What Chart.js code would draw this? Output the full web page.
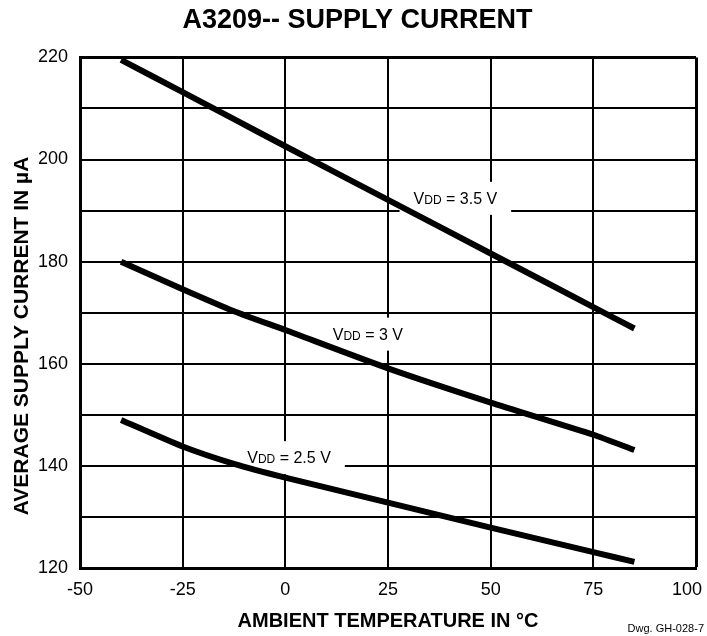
<!DOCTYPE html>
<html>
<head>
<meta charset="utf-8">
<script src="https://cdn.jsdelivr.net/npm/chart.js@4.4.1/dist/chart.umd.min.js"></script>
<style>
  html, body { margin: 0; padding: 0; background: #fff; }
</style>
</head>
<body>
<canvas id="supplyChart" width="707" height="636"></canvas>
<script>
// values (temperature in C, current in uA)
const temps = [-40, -25, -12.5, 0, 25, 50, 75, 85];
const vdd35 = [219.5, 213.2, 207.9, 202.6, 192.1, 181.6, 171.1, 166.9];
const vdd30 = [180, 174.6, 170.3, 166.6, 159.1, 152.4, 146.1, 143.1];
const vdd25 = [149, 143.8, 140.4, 137.7, 132.8, 127.9, 123.1, 121.2];
const seriesVolts = ['3.5', '3', '2.5'];
const xTicks = [-50, -25, 0, 25, 50, 75, 100];
const yTicks = [120, 140, 160, 180, 200, 220];

const FONT = '"Liberation Sans", Arial, Helvetica, sans-serif';

// where the VDD captions sit on the chart
const labelSpots = [
  { volts: seriesVolts[0], temp: 41.4, current: 192.5 },
  { volts: seriesVolts[1], temp: 20.1, current: 165.9 },
  { volts: seriesVolts[2], temp: 0.9, current: 141.7 },
];

function toPoints(values) {
  return values.map((v, i) => ({ x: temps[i], y: v }));
}

const curveLabels = {
  id: 'curveLabels',
  beforeDatasetsDraw(chart) {
    const { ctx, scales: { x, y } } = chart;
    labelSpots.forEach((spot) => {
      const cx = x.getPixelForValue(spot.temp);
      const cy = y.getPixelForValue(spot.current);
      const rest = ' = ' + spot.volts + ' V';
      ctx.save();
      ctx.font = '16px ' + FONT;
      const wV = ctx.measureText('V').width;
      const wRest = ctx.measureText(rest).width;
      ctx.font = '12px ' + FONT;
      const wDD = ctx.measureText('DD').width;
      const total = wV + wDD + wRest;
      const left = cx - total / 2;

      ctx.fillStyle = '#fff';
      ctx.fillRect(left - 14, cy - 16, total + 28, 33);

      ctx.fillStyle = '#000';
      ctx.textBaseline = 'alphabetic';
      ctx.textAlign = 'left';
      const base = cy + 6;
      ctx.font = '16px ' + FONT;
      ctx.fillText('V', left, base);
      ctx.font = '12px ' + FONT;
      ctx.fillText('DD', left + wV, base);
      ctx.font = '16px ' + FONT;
      ctx.fillText(rest, left + wV + wDD, base);
      ctx.restore();
    });
  },
  afterDraw(chart) {
    const { ctx } = chart;
    ctx.save();
    ctx.fillStyle = '#000';
    // y axis title, sits a little below the middle of the plot
    ctx.font = 'bold 21px ' + FONT;
    ctx.textAlign = 'center';
    ctx.textBaseline = 'middle';
    ctx.translate(22, 336);
    ctx.rotate(-Math.PI / 2);
    ctx.fillText('AVERAGE SUPPLY CURRENT IN \u00B5A', 0, 0);
    ctx.restore();

    ctx.save();
    ctx.font = '11px ' + FONT;
    ctx.fillStyle = '#000';
    ctx.textAlign = 'right';
    ctx.textBaseline = 'alphabetic';
    ctx.fillText('Dwg. GH-028-7', 704, 632);
    ctx.restore();
  }
};

const lineStyle = {
  borderColor: '#000',
  borderWidth: 6,
  pointRadius: 0,
  fill: false,
  tension: 0.2,
  borderCapStyle: 'butt',
};

new Chart(document.getElementById('supplyChart'), {
  type: 'line',
  data: {
    datasets: [
      { label: 'VDD = 3.5 V', data: toPoints(vdd35), ...lineStyle },
      { label: 'VDD = 3 V', data: toPoints(vdd30), ...lineStyle },
      { label: 'VDD = 2.5 V', data: toPoints(vdd25), ...lineStyle },
    ],
  },
  options: {
    responsive: false,
    animation: false,
    layout: { padding: { left: 0, right: 11, top: 0, bottom: 0 } },
    plugins: {
      legend: { display: false },
      tooltip: { enabled: false },
      title: {
        display: true,
        // leading spaces nudge the title a bit right, as on the sheet
        text: '\u2002\u2009A3209-- SUPPLY CURRENT',
        color: '#000',
        font: { family: FONT, size: 27, weight: 'bold' },
        padding: { top: 4, bottom: 21 },
      },
    },
    scales: {
      x: {
        type: 'linear',
        min: -50,
        max: 100,
        afterBuildTicks: (scale) => {
          scale.ticks = xTicks.map((v) => ({ value: v }));
        },
        afterFit: (scale) => {
          scale.paddingRight = 0;
          scale.height = 68;
        },
        ticks: {
          color: '#000',
          font: { family: FONT, size: 18 },
          padding: 11,
          maxRotation: 0,
          // last label is pulled in so it fits the page
          callback: (v) => (v === 100 ? '100\u2002\u2002' : v),
        },
        grid: {
          color: '#000',
          lineWidth: (c) => (c.tick && c.tick.value === 100 ? 3 : 2),
          drawTicks: false,
        },
        border: { color: '#000', width: 3 },
        title: {
          display: true,
          text: 'AMBIENT TEMPERATURE IN \u00B0C',
          color: '#000',
          font: { family: FONT, size: 20, weight: 'bold' },
          padding: { top: 0, bottom: 3 },
        },
      },
      y: {
        min: 120,
        max: 220,
        afterFit: (scale) => {
          scale.width = 80;
        },
        ticks: {
          stepSize: 10,
          color: '#000',
          font: { family: FONT, size: 18 },
          padding: 12,
          callback: (v) => (yTicks.includes(v) ? v : ''),
        },
        grid: {
          color: '#000',
          lineWidth: (c) => (c.tick && c.tick.value === 220 ? 3 : 2),
          drawTicks: false,
        },
        border: { color: '#000', width: 3 },
      },
    },
  },
  plugins: [curveLabels],
});
</script>
</body>
</html>
